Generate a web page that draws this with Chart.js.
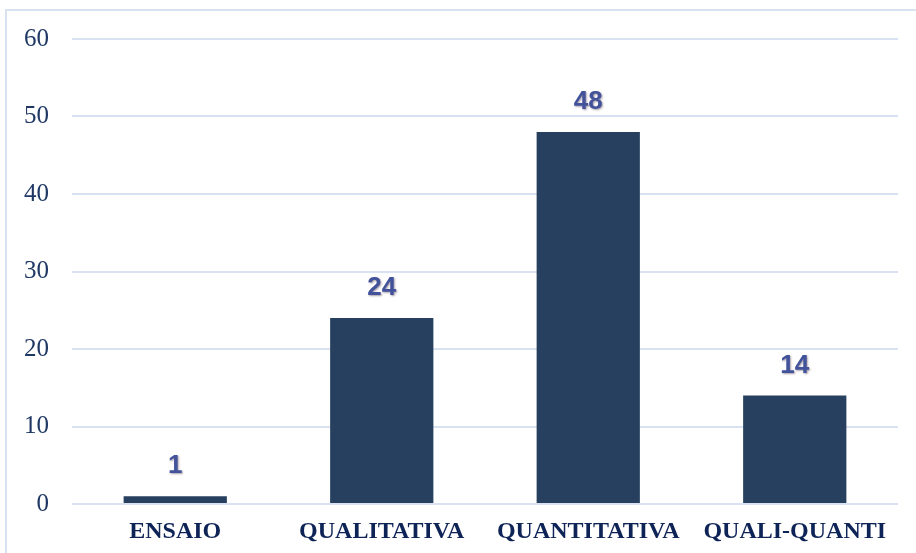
<!DOCTYPE html>
<html>
<head>
<meta charset="utf-8">
<script src="https://cdn.jsdelivr.net/npm/chart.js@4.4.1/dist/chart.umd.min.js"></script>
<style>
html,body{margin:0;padding:0;background:#fff;}
#wrap{position:relative;width:916px;height:553px;}
</style>
</head>
<body>
<div id="wrap"><canvas id="c" width="916" height="553"></canvas></div>
<script>
const categories = ["ENSAIO", "QUALITATIVA", "QUANTITATIVA", "QUALI-QUANTI"];
const values = [1, 24, 48, 14];
const yTicks = [0, 10, 20, 30, 40, 50, 60];

const frame = {
  id: 'frame',
  beforeDraw(chart) {
    const ctx = chart.ctx;
    ctx.save();
    ctx.fillStyle = '#ffffff';
    ctx.fillRect(0, 0, chart.width, chart.height);
    ctx.strokeStyle = '#D9E2F3';
    ctx.lineWidth = 2;
    ctx.strokeRect(6, 10, chart.width + 20, chart.height + 20);
    ctx.restore();
  }
};

const valueLabels = {
  id: 'valueLabels',
  afterDatasetsDraw(chart) {
    const ctx = chart.ctx;
    const meta = chart.getDatasetMeta(0);
    ctx.save();
    ctx.font = 'bold 26px "Liberation Sans", Arial, sans-serif';
    ctx.textAlign = 'center';
    ctx.textBaseline = 'middle';
    ctx.fillStyle = '#43539B';
    ctx.shadowColor = 'rgba(60,40,60,0.45)';
    ctx.shadowBlur = 2;
    ctx.shadowOffsetX = 1;
    ctx.shadowOffsetY = 1;
    meta.data.forEach((bar, i) => {
      ctx.fillText(String(chart.data.datasets[0].data[i]), bar.x, bar.y - 30);
    });
    ctx.restore();
  }
};

new Chart(document.getElementById('c'), {
  type: 'bar',
  data: {
    labels: categories,
    datasets: [{
      data: values,
      backgroundColor: '#27405F',
      borderWidth: 0,
      barPercentage: 1.0,
      categoryPercentage: 0.5
    }]
  },
  options: {
    responsive: false,
    animation: false,
    devicePixelRatio: 1,
    layout: { padding: { top: 39, right: 18, bottom: 7, left: 0 } },
    plugins: { legend: { display: false }, tooltip: { enabled: false } },
    scales: {
      x: {
        afterFit(s) { s.height = 42; },
        grid: { display: false, drawTicks: false },
        border: { display: false },
        ticks: {
          padding: 13,
          color: '#0E2356',
          font: { family: '"Liberation Serif", "Times New Roman", serif', size: 24, weight: 'bold' },
          maxRotation: 0
        }
      },
      y: {
        min: 0,
        max: 60,
        afterFit(s) { s.width = 72; },
        afterBuildTicks(s) { s.ticks = yTicks.map(v => ({ value: v })); },
        grid: { color: '#D9E2F3', lineWidth: 2, drawTicks: false },
        border: { display: false },
        ticks: {
          padding: 23,
          color: '#1F3864',
          font: { family: '"Liberation Serif", "Times New Roman", serif', size: 25 }
        }
      }
    }
  },
  plugins: [frame, valueLabels]
});
</script>
</body>
</html>
